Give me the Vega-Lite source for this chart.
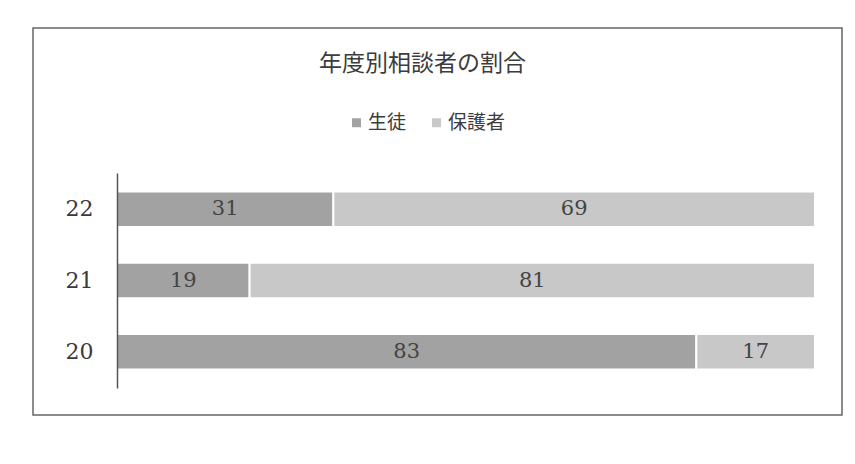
{
  "$schema": "https://vega.github.io/schema/vega-lite/v6.json",
  "width": 809,
  "height": 387,
  "autosize": "none",
  "padding": {"left": 33, "top": 28, "right": 13, "bottom": 49},
  "background": "white",
  "config": {
    "view": {"stroke": "#666", "strokeWidth": 1.5},
    "font": "Noto Sans CJK JP"
  },
  "title": {
    "text": "年度別相談者の割合",
    "anchor": "middle",
    "frame": "group",
    "baseline": "middle",
    "offset": -59,
    "dx": -15,
    "fontSize": 23,
    "fontWeight": "normal",
    "font": "Noto Sans CJK JP",
    "color": "#3c3c3c"
  },
  "data": {
    "values": [
      {"year": "22", "who": "生徒", "value": 31},
      {"year": "22", "who": "保護者", "value": 69},
      {"year": "21", "who": "生徒", "value": 19},
      {"year": "21", "who": "保護者", "value": 81},
      {"year": "20", "who": "生徒", "value": 83},
      {"year": "20", "who": "保護者", "value": 17}
    ]
  },
  "encoding": {
    "y": {
      "field": "year",
      "type": "nominal",
      "sort": "descending",
      "scale": {"range": [145, 360], "paddingInner": 0.5, "paddingOuter": 0.26},
      "axis": {
        "title": null,
        "offset": -84,
        "ticks": false,
        "labelPadding": 24,
        "labelFont": "DejaVu Serif",
        "labelFontSize": 22,
        "labelColor": "#3a3a3a",
        "domainColor": "#555",
        "domainWidth": 1.5,
        "grid": false,
        "zindex": 1
      }
    }
  },
  "layer": [
    {
      "mark": {"type": "bar", "stroke": "white", "strokeWidth": 2},
      "encoding": {
        "x": {
          "field": "value",
          "type": "quantitative",
          "stack": "zero",
          "scale": {"domain": [-12.03, 103.87], "nice": false, "zero": false},
          "axis": null
        },
        "color": {
          "field": "who",
          "type": "nominal",
          "scale": {"domain": ["生徒", "保護者"], "range": ["#a2a2a2", "#c8c8c8"]},
          "legend": {
            "title": null,
            "orient": "none",
            "legendX": 314,
            "legendY": 85,
            "direction": "horizontal",
            "symbolType": "square",
            "symbolSize": 80,
            "symbolStrokeWidth": 0,
            "labelFont": "Noto Sans CJK JP",
            "labelFontSize": 19,
            "labelColor": "#3c3c3c",
            "labelOffset": 2,
            "columnPadding": 20
          }
        },
        "order": {"field": "who", "sort": "descending"}
      }
    },
    {
      "mark": {"type": "text", "font": "DejaVu Serif", "fontSize": 21, "color": "#444", "baseline": "middle"},
      "encoding": {
        "x": {
          "field": "value",
          "type": "quantitative",
          "stack": "zero",
          "bandPosition": 0.5
        },
        "detail": {"field": "who"},
        "order": {"field": "who", "sort": "descending"},
        "text": {"field": "value", "type": "quantitative"}
      }
    }
  ]
}
